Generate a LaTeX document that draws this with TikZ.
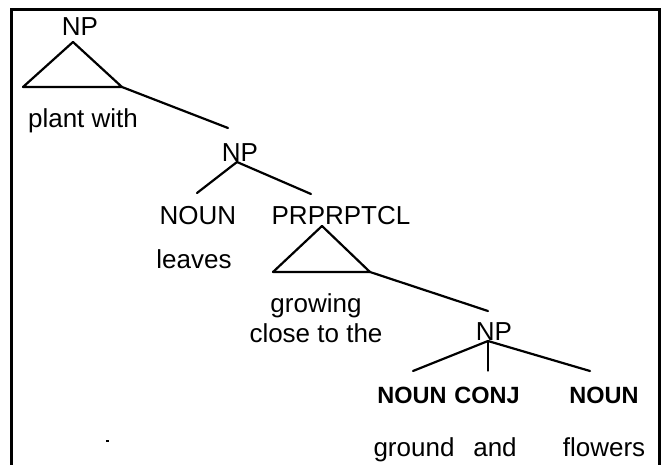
\documentclass[tikz,border=0pt]{standalone}
\usepackage{fontspec}
\setmainfont{Liberation Sans}
\begin{document}
\begin{tikzpicture}[x=1pt,y=-1pt,
  lbl/.style={inner sep=0pt,anchor=base,font=\fontsize{26}{30}\selectfont},
  blbl/.style={inner sep=0pt,anchor=base,font=\fontsize{23.5}{28}\selectfont\bfseries},
  edge/.style={line width=2.2pt,line cap=round,line join=round},
  frame/.style={line width=3pt}]
\useasboundingbox (0,0) rectangle (662,464);
\draw[frame] (11.5,466) -- (11.5,9.5) -- (659.5,9.5) -- (659.5,466);

% top NP with its triangle
\node[lbl] (np1) at (80,35) {NP};
\coordinate (t1a) at (73,42);
\coordinate (t1l) at (23,87);
\coordinate (t1r) at (122,87);
\draw[edge] (t1a) -- (t1l) -- (t1r) -- cycle;
\node[lbl] (w1) at (83,127) {plant with};

% second NP
\node[lbl] (np2) at (240,161) {NP};
\coordinate (np2b) at (237,162);
\coordinate (np1e) at (228,128);
\draw[edge] (t1r) -- (np1e);
\node[lbl] (n1) at (198,224) {NOUN};
\node[lbl] (pp) at (341,224) {PRPRPTCL};
\draw[edge] (np2b) -- (197,193);
\draw[edge] (np2b) -- (311,194);
\node[lbl] (w2) at (194,268) {leaves};

% participle triangle
\coordinate (t2a) at (322,226);
\coordinate (t2l) at (273,272);
\coordinate (t2r) at (370,272);
\draw[edge] (t2a) -- (t2l) -- (t2r) -- cycle;
\node[lbl] (w3) at (316,312) {growing};
\node[lbl] (w4) at (316,342) {close to the};

% third NP
\node[lbl] (np3) at (494,340) {NP};
\coordinate (np3b) at (488,341);
\draw[edge] (t2r) -- (488,311);
\draw[edge] (np3b) -- (413,371);
\draw[edge,line width=1.2pt] (np3b) -- (488,371);
\draw[edge] (np3b) -- (590,371);
\node[blbl] (n2) at (412,403) {NOUN};
\node[blbl] (cj) at (487,403) {CONJ};
\node[blbl] (n3) at (604,403) {NOUN};
\node[lbl] (w5) at (414,456) {ground};
\node[lbl] (w6) at (495,456) {and};
\node[lbl] (w7) at (604,456) {flowers};

% stray mark
\draw[line width=1.5pt] (106,441) -- (109,441);
\end{tikzpicture}
\end{document}
